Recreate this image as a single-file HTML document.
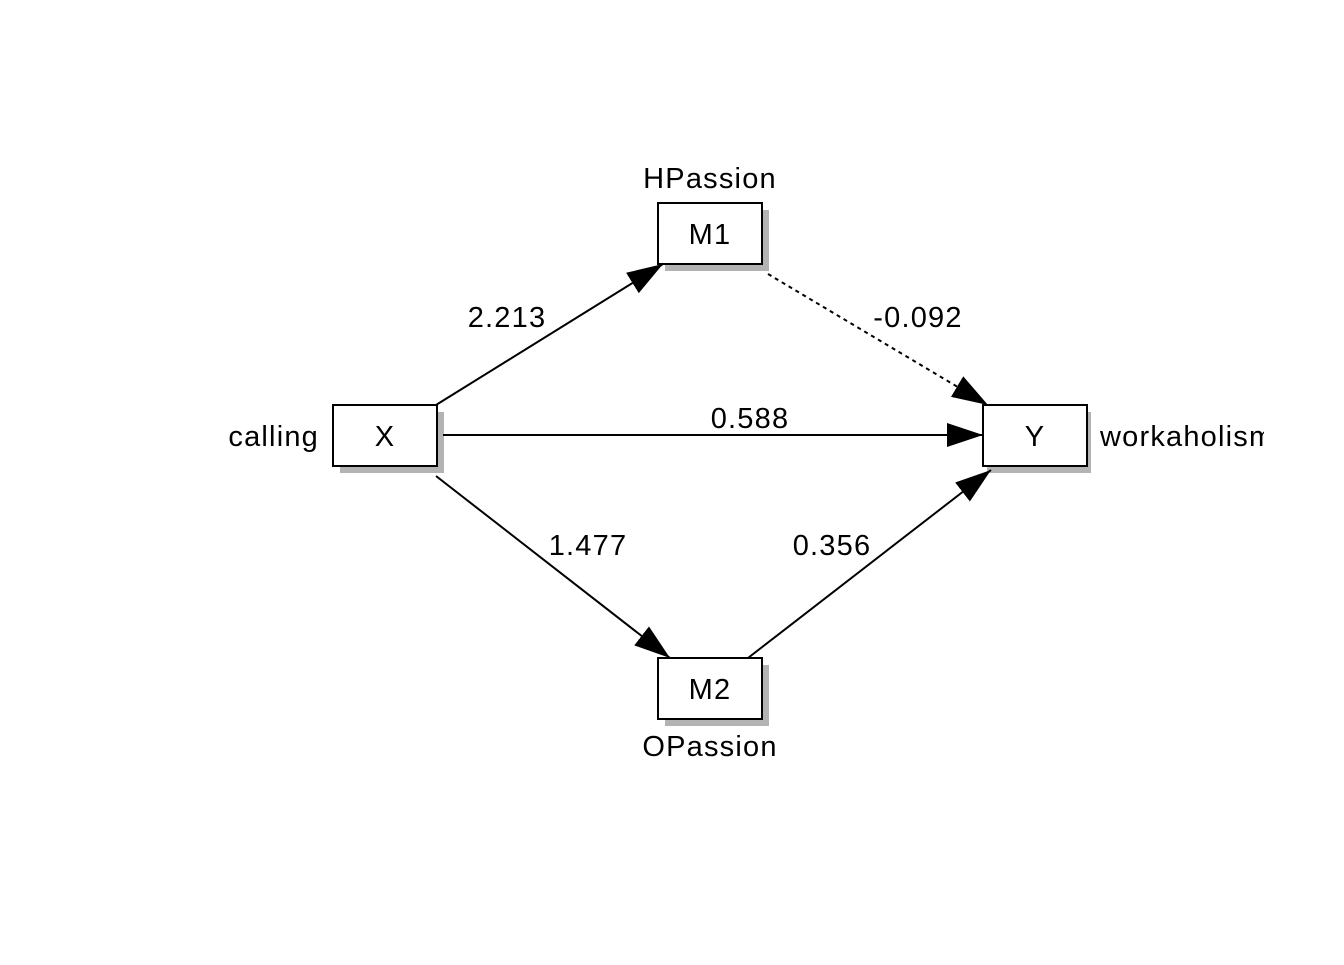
<!DOCTYPE html>
<html><head><style>body{margin:0;background:#fff}</style></head><body>
<svg width="1344" height="960" xmlns="http://www.w3.org/2000/svg" font-family="Liberation Sans, Arial, sans-serif" font-size="29" letter-spacing="1.2">
<defs>
<marker id="b" markerWidth="36" markerHeight="24" refX="36" refY="12" orient="auto" markerUnits="userSpaceOnUse" viewBox="0 0 36 24"><path d="M0,0 L36,12 L0,24 z" fill="#000"/></marker>
<clipPath id="c"><rect x="0" y="0" width="1264" height="960"/></clipPath>
</defs>
<g fill="#b3b3b3">
<rect x="340" y="412" width="104" height="61"/>
<rect x="665" y="210" width="104" height="61"/>
<rect x="665" y="665" width="104" height="61"/>
<rect x="987" y="412" width="104" height="61"/>
</g>
<g fill="#fff" stroke="#000" stroke-width="2">
<rect x="333" y="405" width="104" height="61"/>
<rect x="658" y="203" width="104" height="61"/>
<rect x="658" y="658" width="104" height="61"/>
<rect x="983" y="405" width="104" height="61"/>
</g>
<g stroke="#000" stroke-width="2" fill="none">
<line x1="436" y1="405" x2="663" y2="264" marker-end="url(#b)"/>
<line x1="443" y1="435" x2="983" y2="435" marker-end="url(#b)"/>
<line x1="436" y1="476" x2="670" y2="658" marker-end="url(#b)"/>
<line x1="748" y1="658" x2="991" y2="470" marker-end="url(#b)"/>
<line x1="768" y1="274" x2="988" y2="405" stroke-dasharray="4,4" marker-end="url(#b)"/>
</g>
<g text-anchor="middle">
<text x="385" y="446">X</text>
<text x="710" y="244">M1</text>
<text x="710" y="699">M2</text>
<text x="1035" y="446">Y</text>
<text x="710" y="188">HPassion</text>
<text x="710" y="756">OPassion</text>
<text x="507" y="327">2.213</text>
<text x="750" y="428">0.588</text>
<text x="918" y="327">-0.092</text>
<text x="588" y="555">1.477</text>
<text x="832" y="555">0.356</text>
</g>
<text x="319" y="446" text-anchor="end">calling</text>
<text x="1100" y="446" clip-path="url(#c)">workaholism</text>
</svg>
</body></html>
